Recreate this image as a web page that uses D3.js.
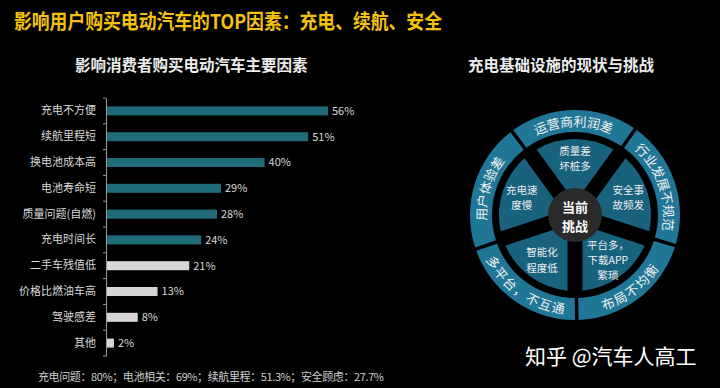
<!DOCTYPE html>
<html><head><meta charset="utf-8">
<script src="https://cdn.jsdelivr.net/npm/d3@7/dist/d3.min.js"></script>
<style>
html,body{margin:0;padding:0;background:#000;}
svg{display:block;font-family:"Noto Sans CJK SC","Noto Sans",sans-serif;}
</style></head>
<body>
<svg id="c" width="720" height="388"></svg>
<script>
// ---- data ----
const categories = ["充电不方便","续航里程短","换电池成本高","电池寿命短","质量问题(自燃)","充电时间长","二手车残值低","价格比燃油车高","驾驶感差","其他"];
const values = [56,51,40,29,28,24,21,13,8,2];
const highlighted = [true,true,true,true,true,true,false,false,false,false];
const outerRing = ["运营商利润差","行业发展不规范","布局不均衡","多平台，不互通","用户体验差"];
const outerReversed = [false,false,true,true,false];
const innerSectors = [["质量差","坏桩多"],["安全事","故频发"],["平台多，","下载APP","繁琐"],["智能化","程度低"],["充电速","度慢"]];
const centerLabel = ["当前","挑战"];
const titleText = "影响用户购买电动汽车的TOP因素：充电、续航、安全";
const leftTitle = "影响消费者购买电动汽车主要因素";
const rightTitle = "充电基础设施的现状与挑战";
const footnote = "充电问题：80%；电池相关：69%；续航里程：51.3%；安全顾虑：27.7%";
const watermark = "知乎 @汽车人高工";

const svg = d3.select("#c");
svg.append("rect").attr("width",720).attr("height",388).attr("fill","#000");

// title
svg.append("text").attr("x",14).attr("y",29).attr("fill","#f4c20d")
  .attr("font-size",20).attr("font-weight","bold")
  .attr("textLength",428).attr("lengthAdjust","spacingAndGlyphs")
  .text(titleText);
svg.append("text").attr("x",75).attr("y",70.5).attr("fill","#ececec")
  .attr("font-size",15.5).attr("font-weight","bold").text(leftTitle);
svg.append("text").attr("x",468).attr("y",71).attr("fill","#ececec")
  .attr("font-size",15.5).attr("font-weight","bold").text(rightTitle);

// ---- bar chart ----
const x = d3.scaleLinear().domain([0,56]).range([106,328]);
const y = d3.scaleBand().domain(categories).range([98,356]).paddingInner(0.65).paddingOuter(0.325);
const g = svg.append("g");
g.selectAll("rect.bar").data(categories).join("rect")
  .attr("x",x(0)).attr("y",d=>y(d))
  .attr("width",(d,i)=>x(values[i])-x(0)).attr("height",y.bandwidth())
  .attr("fill",(d,i)=>highlighted[i]?"#1f6b79":"#d6d6d6");
g.selectAll("text.val").data(categories).join("text")
  .attr("x",(d,i)=>x(values[i])+4).attr("y",d=>y(d)+y.bandwidth()/2)
  .attr("dy","0.35em").attr("fill","#d8d8d8").attr("font-size",11)
  .text((d,i)=>values[i]+"%");
const ax = g.append("g").attr("transform",`translate(${x(0)},0)`)
  .call(d3.axisLeft(y).tickSize(0).tickPadding(10));
ax.select(".domain").attr("stroke","#9a9a9a");
ax.selectAll("text").attr("fill","#d8d8d8").attr("font-size",11)
  .attr("font-family","\"Noto Sans CJK SC\",sans-serif");
const bounds = categories.map(c=>y(c)-y.step()*y.paddingInner()/2).concat([y.range()[1]]);
ax.selectAll("line.bt").data(bounds).join("line").attr("class","bt")
  .attr("x1",-3).attr("x2",0).attr("y1",d=>d).attr("y2",d=>d).attr("stroke","#9a9a9a");

svg.append("text").attr("x",38).attr("y",381).attr("fill","#cfcfcf").attr("font-size",11)
  .attr("textLength",346).attr("lengthAdjust","spacing").text(footnote);

// ---- wheel ----
const cx = 575, cy = 215;
const defs = svg.append("defs");
const gO = defs.append("radialGradient").attr("id","gOuter").attr("gradientUnits","userSpaceOnUse")
  .attr("cx",cx).attr("cy",cy).attr("r",105);
gO.append("stop").attr("offset","0.78").attr("stop-color","#0d3a4d");
gO.append("stop").attr("offset","0.9").attr("stop-color","#176079");
gO.append("stop").attr("offset","1").attr("stop-color","#1f7696");
const gI = defs.append("radialGradient").attr("id","gInner").attr("gradientUnits","userSpaceOnUse")
  .attr("cx",cx).attr("cy",cy).attr("r",76);
gI.append("stop").attr("offset","0.3").attr("stop-color","#04121a");
gI.append("stop").attr("offset","0.72").attr("stop-color","#0b3344");
gI.append("stop").attr("offset","1").attr("stop-color","#18627e");
const gC = defs.append("radialGradient").attr("id","gCenter").attr("gradientUnits","userSpaceOnUse")
  .attr("cx",cx).attr("cy",cy).attr("r",27);
gC.append("stop").attr("offset","0.66").attr("stop-color","#1a1a1a");
gC.append("stop").attr("offset","0.72").attr("stop-color","#9a9a9a");
gC.append("stop").attr("offset","0.85").attr("stop-color","#5a5a5a");
gC.append("stop").attr("offset","1").attr("stop-color","#2a2a2a");

const wheel = svg.append("g").attr("transform",`translate(${cx},${cy})`);
const deg = Math.PI/180;
const pieO = d3.pie().value(1).sort(null).startAngle(-37*deg).endAngle(323*deg);
const arcsO = pieO(outerRing);
const arcO = d3.arc().innerRadius(83).outerRadius(105).padAngle(0.035).padRadius(100);
wheel.selectAll("path.o").data(arcsO).join("path").attr("d",arcO).attr("fill","url(#gOuter)");

const pieI = d3.pie().value(1).sort(null).startAngle(-36*deg).endAngle(324*deg);
const arcsI = pieI(innerSectors);
const arcI = d3.arc().innerRadius(26).outerRadius(76).padAngle(0.2).padRadius(75);
wheel.selectAll("path.i").data(arcsI).join("path").attr("d",arcI).attr("fill","url(#gInner)");

// outer ring labels, one glyph at a time along the ring
const rText = 94, adv = 13.6;
arcsO.forEach((a,i)=>{
  const chars = Array.from(outerRing[i]);
  const mid = (a.startAngle + a.endAngle)/2;
  const step = adv / rText;
  chars.forEach((ch,k)=>{
    const off = (k - (chars.length-1)/2) * step;
    const th = outerReversed[i] ? mid - off : mid + off;
    const px = rText*Math.sin(th), py = -rText*Math.cos(th);
    const rot = th/deg + (outerReversed[i] ? 180 : 0);
    wheel.append("text").attr("fill","#f2f2f2").attr("font-size",13)
      .attr("text-anchor","middle").attr("dominant-baseline","central")
      .attr("transform",`translate(${px},${py}) rotate(${rot})`).text(ch);
  });
});

// inner sector labels
const innerFont = 10.5, innerLine = 15.2;
arcsI.forEach((a,i)=>{
  const m = (a.startAngle+a.endAngle)/2;
  const r = 56;
  const tx = r*Math.sin(m), ty = -r*Math.cos(m);
  const lines = innerSectors[i];
  const t = wheel.append("text").attr("fill","#eeeeee").attr("font-size",innerFont).attr("text-anchor","middle");
  lines.forEach((ln,k)=>{
    t.append("tspan").attr("x",tx).attr("y",ty + (k-(lines.length-1)/2)*innerLine).attr("dy","0.35em").text(ln);
  });
});

// center
wheel.append("circle").attr("r",27).attr("fill","url(#gCenter)");
const ct = wheel.append("text").attr("fill","#ffffff").attr("font-size",13).attr("font-weight","bold").attr("text-anchor","middle");
centerLabel.forEach((ln,k)=>{
  ct.append("tspan").attr("x",0).attr("y",(k-0.5)*18.8+2).attr("dy","0.35em").text(ln);
});

svg.append("text").attr("x",525).attr("y",364).attr("fill","#ffffff").attr("font-size",21).text(watermark);
</script>
</body></html>
